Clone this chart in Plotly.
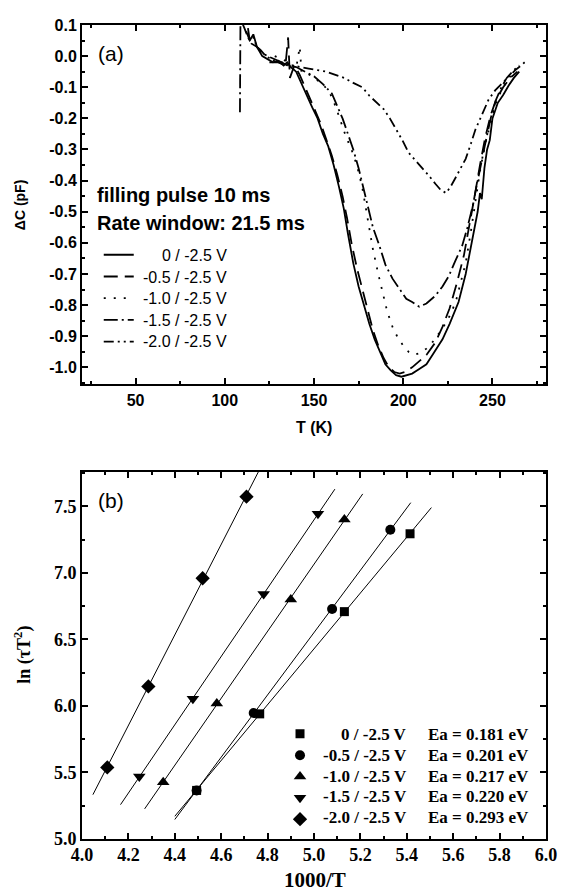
import numpy as np
import plotly.graph_objects as go

# The page body has an 8px margin, so the figure is drawn 8px to the right and 8px down.
FW, FH = 558, 886
ML, MR, MT, MB = 74, 13, 9, 55
PW, PH = FW - ML - MR, FH - MT - MB


def xp(px):
    """reference-picture x pixel -> paper coordinate"""
    return (px - 8 - ML) / PW


def yp(py):
    """reference-picture y pixel -> paper coordinate"""
    return (FH - MB - (py - 8)) / PH


# ---------------- panel (a) data: DLTS spectra ----------------
legend_a_labels = ["0 / -2.5 V", "-0.5 / -2.5 V", "-1.0 / -2.5 V", "-1.5 / -2.5 V",
                   "-2.0 / -2.5 V"]

T_0 = [113, 114, 116, 118, 121, 124, 127, 130, 133, 135, 137, 140, 143, 146, 149, 152, 155, 158,
       161, 164, 166.7, 169, 172, 175, 178, 181, 184, 187, 190, 193, 196, 199, 202, 205, 209, 213,
       217, 222, 226, 231, 235, 238, 240, 241.7, 243, 244, 245.5, 247, 248.5, 250, 253, 256, 259,
       262, 265]
dC_0 = [0.09, 0.05, 0.07, 0.03, 0.0, -0.01, -0.02, -0.015, -0.03, -0.02, -0.035, -0.05, -0.09,
        -0.13, -0.165, -0.20, -0.25, -0.29, -0.35, -0.42, -0.49, -0.57, -0.665, -0.74, -0.80,
        -0.86, -0.91, -0.95, -0.99, -1.01, -1.025, -1.03, -1.025, -1.02, -1.005, -0.99, -0.955,
        -0.91, -0.86, -0.79, -0.70, -0.61, -0.55, -0.50, -0.44, -0.46, -0.36, -0.30, -0.27, -0.20,
        -0.15, -0.125, -0.095, -0.07, -0.05]

T_05 = [125, 130, 134, 135.5, 136.5, 139, 142, 145, 148, 151, 154, 157, 160, 163, 166, 168.5,
        171, 174, 177, 180, 183, 186, 189, 192, 195, 198, 201, 205, 209, 213, 218, 222, 226, 230,
        234, 237, 240, 243, 246, 249, 252, 256, 260, 264]
dC_05 = [-0.02, -0.02, -0.03, 0.06, -0.07, -0.03, -0.06, -0.10, -0.14, -0.18, -0.22, -0.27,
         -0.32, -0.38, -0.45, -0.52, -0.60, -0.68, -0.75, -0.82, -0.88, -0.93, -0.97, -1.0,
         -1.015, -1.02, -1.015, -1.0, -0.98, -0.96, -0.92, -0.87, -0.81, -0.73, -0.64, -0.55,
         -0.45, -0.35, -0.26, -0.19, -0.14, -0.10, -0.07, -0.05]

T_10 = [128, 132, 136, 140, 142, 143, 145, 150, 155, 159, 162, 165, 168, 171, 174, 177, 179, 181,
        183, 186, 188.5, 191, 194, 197, 200, 203, 206, 209, 213, 217, 222, 226, 229.4, 232, 235,
        238, 240.5, 243, 246, 249, 252, 255, 258, 262]
dC_10 = [0.0, -0.01, -0.02, -0.04, 0.03, -0.05, -0.05, -0.07, -0.09, -0.12, -0.16, -0.21, -0.26,
         -0.30, -0.35, -0.42, -0.49, -0.56, -0.62, -0.70, -0.76, -0.82, -0.87, -0.905, -0.93,
         -0.95, -0.96, -0.955, -0.94, -0.915, -0.875, -0.835, -0.79, -0.73, -0.665, -0.56, -0.46,
         -0.37, -0.28, -0.21, -0.15, -0.11, -0.08, -0.055]

T_15 = [108.5, 108.8, 111, 113, 115, 118, 121, 124, 128, 132, 136, 140, 145, 150, 155, 160, 163,
        166, 169, 172, 175, 178, 180.5, 183, 186.7, 190, 194, 198, 201.7, 205, 209, 213, 218, 222,
        225.6, 229, 233, 236, 239, 241, 243, 246, 249, 252, 255, 258, 262, 265]
dC_15 = [-0.18, 0.12, 0.09, 0.06, 0.04, 0.03, 0.01, 0.0, -0.01, -0.02, -0.03, -0.035, -0.05,
         -0.065, -0.09, -0.12, -0.16, -0.20, -0.25, -0.30, -0.36, -0.43, -0.49, -0.55, -0.61,
         -0.67, -0.715, -0.75, -0.78, -0.79, -0.805, -0.795, -0.77, -0.74, -0.706, -0.66, -0.61,
         -0.55, -0.48, -0.42, -0.36, -0.28, -0.20, -0.14, -0.10, -0.07, -0.045, -0.03]

T_20 = [112, 114, 116, 118, 120, 123, 126, 129, 132, 135, 138, 142, 147, 152, 157, 162, 167, 172,
        177, 181, 185, 189, 192.5, 196, 199.5, 203, 207, 211, 214.5, 218, 221, 224, 226.5, 229.4,
        232, 235, 238, 240.5, 244, 247.8, 251.5, 255.6, 259, 262.8, 266, 269.4]
dC_20 = [0.08, 0.05, 0.06, 0.03, 0.02, 0.0, -0.01, -0.02, -0.02, -0.03, -0.03, -0.035, -0.04,
         -0.045, -0.05, -0.06, -0.07, -0.086, -0.10, -0.127, -0.15, -0.17, -0.20, -0.235, -0.27,
         -0.31, -0.335, -0.36, -0.385, -0.41, -0.43, -0.44, -0.42, -0.39, -0.36, -0.33, -0.28,
         -0.235, -0.19, -0.14, -0.11, -0.086, -0.065, -0.045, -0.03, -0.013]

series_a_T = [T_0, T_05, T_10, T_15, T_20]
series_a_dC = [dC_0, dC_05, dC_10, dC_15, dC_20]
series_a_dash = ["solid", "14px,7px", "2px,8px", "14px,4px,2px,4px", "10px,4px,2px,4px,2px,4px"]

a_xtick_vals = [50, 100, 150, 200, 250]
a_xtick_text = ["50", "100", "150", "200", "250"]
a_ytick_vals = [0.1, 0.0, -0.1, -0.2, -0.3, -0.4, -0.5, -0.6, -0.7, -0.8, -0.9, -1.0]
a_ytick_text = ["0.1", "0.0", "-0.1", "-0.2", "-0.3", "-0.4", "-0.5", "-0.6", "-0.7", "-0.8",
                "-0.9", "-1.0"]

# ---------------- panel (b) data: Arrhenius plot ----------------
legend_b_bias = ["0 / -2.5 V", "-0.5 / -2.5 V", "-1.0 / -2.5 V", "-1.5 / -2.5 V",
                 "-2.0 / -2.5 V"]
legend_b_ea = ["Ea = 0.181 eV", "Ea = 0.201 eV", "Ea = 0.217 eV", "Ea = 0.220 eV",
               "Ea = 0.293 eV"]
inv_T_0 = [4.494, 4.766, 5.131, 5.414]
ln_0 = [5.365, 5.94, 6.708, 7.293]
inv_T_05 = [4.494, 4.740, 5.078, 5.329]
ln_05 = [5.365, 5.947, 6.728, 7.323]
inv_T_10 = [4.350, 4.581, 4.900, 5.131]
ln_10 = [5.426, 6.017, 6.80, 7.40]
inv_T_15 = [4.247, 4.478, 4.783, 5.017]
ln_15 = [5.469, 6.054, 6.84, 7.443]
inv_T_20 = [4.109, 4.286, 4.520, 4.709]
ln_20 = [5.538, 6.146, 6.959, 7.572]

series_b_x = [inv_T_0, inv_T_05, inv_T_10, inv_T_15, inv_T_20]
series_b_y = [ln_0, ln_05, ln_10, ln_15, ln_20]
fit_x_start = [4.40, 4.40, 4.27, 4.166, 4.047]
fit_x_end = [5.506, 5.417, 5.21, 5.09, 4.80]
series_b_symbols = ["square", "circle", "triangle-up", "triangle-down", "diamond"]
series_b_sizes = [9, 10, 11, 11, 11]

b_xtick_vals = [4.0, 4.2, 4.4, 4.6, 4.8, 5.0, 5.2, 5.4, 5.6, 5.8, 6.0]
b_ytick_vals = [5.0, 5.5, 6.0, 6.5, 7.0, 7.5]

fig = go.Figure()

NB = "\u00a0"
for lab, T, dC, dash in zip(legend_a_labels, series_a_T, series_a_dC, series_a_dash):
    fig.add_trace(go.Scatter(x=T, y=dC, mode="lines", name=NB,
                             line=dict(color="black", width=1.8, dash=dash),
                             xaxis="x", yaxis="y", legend="legend"))

for lab, xs, ys, x0, x1, sym, sz in zip(legend_b_bias, series_b_x, series_b_y, fit_x_start,
                                        fit_x_end, series_b_symbols, series_b_sizes):
    k, b = np.polyfit(xs, ys, 1)
    xl = np.array([x0, x1])
    fig.add_trace(go.Scatter(x=xl, y=k * xl + b, mode="lines", showlegend=False,
                             line=dict(color="black", width=1), xaxis="x2", yaxis="y2"))
    fig.add_trace(go.Scatter(x=xs, y=ys, mode="markers", name=NB,
                             marker=dict(symbol=sym, size=sz, color="black"),
                             xaxis="x2", yaxis="y2", legend="legend2"))

arial = "Arial, Liberation Sans, sans-serif"
times = "Times New Roman, Liberation Serif, serif"

axis_common = dict(showline=True, linecolor="black", linewidth=2, mirror="ticks",
                   ticks="inside", tickcolor="black", tickwidth=1.5, ticklen=6,
                   showgrid=False, zeroline=False)


def bold(lst, fmt="{}"):
    return ["<b>" + fmt.format(v) + "</b>" for v in lst]


fig.update_layout(
    width=FW, height=FH,
    margin=dict(l=ML, r=MR, t=MT, b=MB),
    paper_bgcolor="white", plot_bgcolor="white",
    xaxis=dict(domain=[0, 1], anchor="y", range=[20, 280], tickmode="array",
               tickvals=a_xtick_vals, ticktext=bold(a_xtick_text),
               tickfont=dict(family=arial, size=16, color="black"),
               minor=dict(dtick=25, tick0=0, ticks="inside", ticklen=3, tickcolor="black",
                          tickmode="linear"),
               ticklabelstandoff=0, **axis_common),
    yaxis=dict(domain=[yp(380), yp(17)], anchor="x", range=[-1.055, 0.1], tickmode="array",
               tickvals=a_ytick_vals, ticktext=bold(a_ytick_text),
               tickfont=dict(family=arial, size=16, color="black"),
               minor=dict(dtick=0.05, tick0=0, ticks="inside", ticklen=3, tickcolor="black",
                          tickmode="linear"),
               ticklabelstandoff=0, **axis_common),
    xaxis2=dict(domain=[0, 1], anchor="y2", range=[4.0, 6.0], tickmode="array",
                tickvals=b_xtick_vals, ticktext=bold(b_xtick_vals, "{:.1f}"),
                tickfont=dict(family=times, size=18, color="black"),
                minor=dict(dtick=0.1, tick0=4.0, ticks="inside", ticklen=3, tickcolor="black",
                           tickmode="linear"),
                ticklabelstandoff=-2, **axis_common),
    yaxis2=dict(domain=[0, yp(468)], anchor="x2", range=[5.0, 7.76], tickmode="array",
                tickvals=b_ytick_vals, ticktext=bold(b_ytick_vals, "{:.1f}"),
                tickfont=dict(family=times, size=18, color="black"),
                minor=dict(dtick=0.25, tick0=5.0, ticks="inside", ticklen=3, tickcolor="black",
                           tickmode="linear"),
                ticklabelstandoff=0, **axis_common),
    legend=dict(x=xp(99), y=yp(233), xanchor="left", yanchor="top",
                font=dict(family=arial, size=14.4, color="black"),
                bgcolor="rgba(0,0,0,0)", borderwidth=0, itemwidth=30, tracegroupgap=0),
    legend2=dict(x=xp(283), y=yp(717), xanchor="left", yanchor="top",
                 font=dict(family=times, size=14.1, color="black"),
                 bgcolor="rgba(0,0,0,0)", borderwidth=0, itemwidth=30, tracegroupgap=0),
    showlegend=True,
)

ann = [
    dict(text="(a)", x=xp(96), y=yp(46), xanchor="left", yanchor="middle",
         font=dict(family=arial, size=21, color="black")),
    dict(text="<b>filling pulse 10 ms</b>", x=xp(95), y=yp(189), xanchor="left",
         yanchor="middle", font=dict(family=arial, size=20, color="black")),
    dict(text="<b>Rate window: 21.5 ms</b>", x=xp(95), y=yp(217), xanchor="left",
         yanchor="middle", font=dict(family=arial, size=20, color="black")),
    dict(text="<b>ΔC (pF)</b>", x=xp(19), y=yp(198), textangle=-90, xanchor="center",
         yanchor="middle", font=dict(family=arial, size=14, color="black")),
    dict(text="<b>T (K)</b>", x=xp(318), y=yp(423), xanchor="center", yanchor="middle",
         font=dict(family=arial, size=16, color="black")),
    dict(text="(b)", x=xp(96), y=yp(497), xanchor="left", yanchor="middle",
         font=dict(family=arial, size=21, color="black")),
    dict(text="<b>ln (τT<sup>2</sup>)</b>", x=xp(22), y=yp(653), textangle=-90,
         xanchor="center", yanchor="middle", font=dict(family=times, size=18, color="black")),
    dict(text="<b>1000/T</b>", x=xp(319), y=yp(880), xanchor="center", yanchor="middle",
         font=dict(family=times, size=21, color="black")),
]

# legend texts of panel (a)
a_rows = [250, 271.7, 293.3, 315, 336.7]
for lab, ry in zip(legend_a_labels, a_rows):
    ann.append(dict(text=lab, x=xp(231), y=yp(ry), xanchor="right", yanchor="middle",
                    font=dict(family=arial, size=16, color="black")))

# legend texts of panel (b)
b_rows = [733.3, 754.5, 775.5, 796.5, 817.5]
for lab, ea, ry in zip(legend_b_bias, legend_b_ea, b_rows):
    ann.append(dict(text="<b>" + lab + "</b>", x=xp(414), y=yp(ry), xanchor="right",
                    yanchor="middle", font=dict(family=times, size=17, color="black")))
    ann.append(dict(text="<b>" + ea + "</b>", x=xp(538), y=yp(ry), xanchor="right",
                    yanchor="middle", font=dict(family=times, size=17, color="black")))

for a in ann:
    a.update(xref="paper", yref="paper", showarrow=False)
fig.update_layout(annotations=ann)

fig.write_html("out.html")
